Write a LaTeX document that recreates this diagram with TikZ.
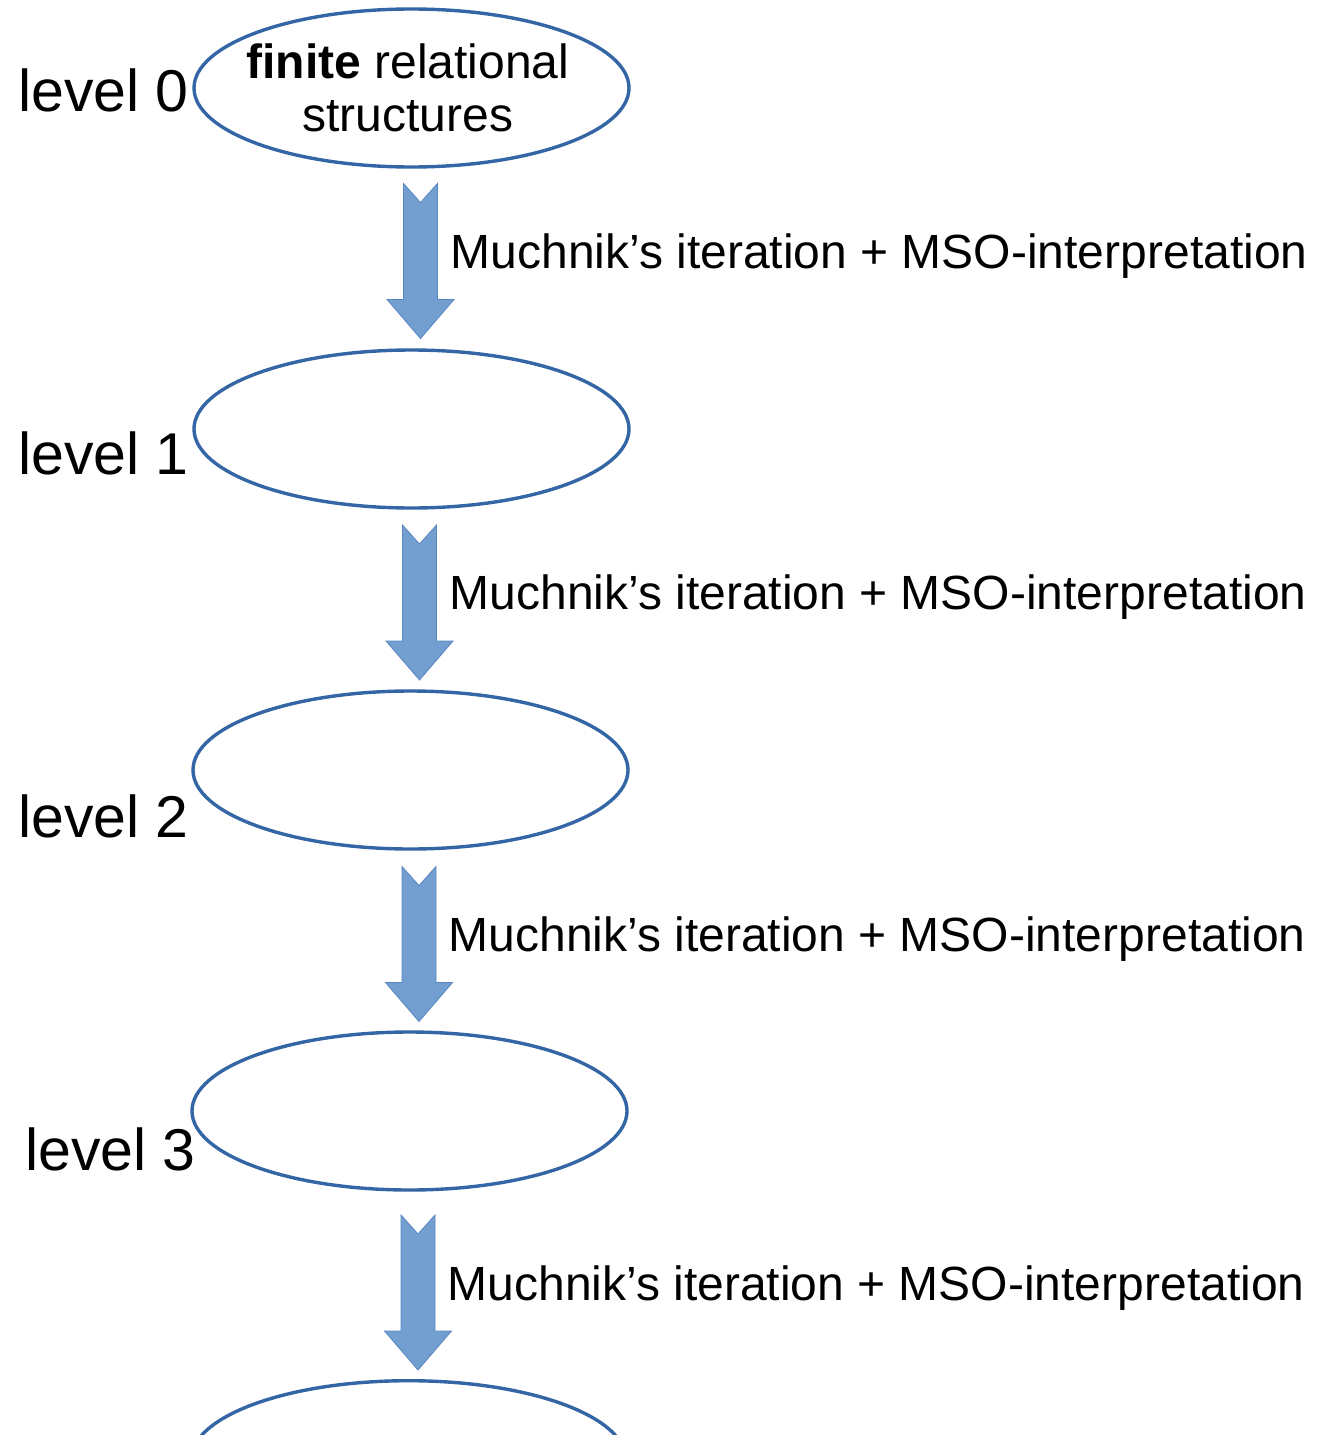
\documentclass[tikz,border=0pt]{standalone}
\usepackage{fontspec}
\setmainfont{Liberation Sans}
\usetikzlibrary{shapes.geometric}
\definecolor{ringblue}{HTML}{3465A4}
\definecolor{arrowfill}{HTML}{729FCF}
\definecolor{arrowedge}{HTML}{5A86C0}
\tikzset{
  level ring/.style={ellipse, draw=ringblue, line width=3.4pt, inner sep=0pt,
    minimum width=435pt, minimum height=158pt},
  level tag/.style={anchor=base west, inner sep=0pt, font=\fontsize{59}{66}\selectfont},
  step tag/.style={anchor=base west, inner sep=0pt, font=\fontsize{48}{54}\selectfont},
  block arrow/.pic={
    \path[fill=arrowfill, draw=arrowedge, line width=0.8pt, line join=miter]
      (-17,0) -- (0,19) -- (17,0) -- (17,116) -- (33.5,116) -- (0,155)
      -- (-33.5,116) -- (-17,116) -- cycle;
  }
}
\begin{document}
\begin{tikzpicture}[x=1pt, y=-1pt]
  \useasboundingbox (0,0) rectangle (1323,1435);

  % the levels
  \node[level ring] (e0) at (411.5,88) {};
  \node[level ring] (e1) at (411.5,429) {};
  \node[level ring] (e2) at (410.5,770) {};
  \node[level ring] (e3) at (409.5,1111) {};
  \begin{scope}
    \clip (0,0) rectangle (1323,1435);
    \node[level ring] (e4) at (408.5,1459.7) {};
  \end{scope}

  \node[align=center, inner sep=0pt, font=\fontsize{48}{53}\selectfont, anchor=base]
    (t0) at (408,131.5) {\textbf{finite} relational\\structures};

  % level names
  \node[level tag] (l0) at (18,111.7) {level 0};
  \node[level tag] (l1) at (18,474.3) {level 1};
  \node[level tag] (l2) at (18,837.3) {level 2};
  \node[level tag] (l3) at (25,1170.5) {level 3};

  % steps between levels
  \coordinate (a1) at (420.5,183.5);
  \coordinate (a2) at (419.5,525);
  \coordinate (a3) at (419,866.5);
  \coordinate (a4) at (418,1215);
  \pic at (a1) {block arrow};
  \pic at (a2) {block arrow};
  \pic at (a3) {block arrow};
  \pic at (a4) {block arrow};

  \node[step tag] (s1) at (450.5,268.3) {Muchnik’s iteration + MSO-interpretation};
  \node[step tag] (s2) at (449.5,609.3) {Muchnik’s iteration + MSO-interpretation};
  \node[step tag] (s3) at (448.5,951) {Muchnik’s iteration + MSO-interpretation};
  \node[step tag] (s4) at (447.5,1300) {Muchnik’s iteration + MSO-interpretation};
\end{tikzpicture}
\end{document}
